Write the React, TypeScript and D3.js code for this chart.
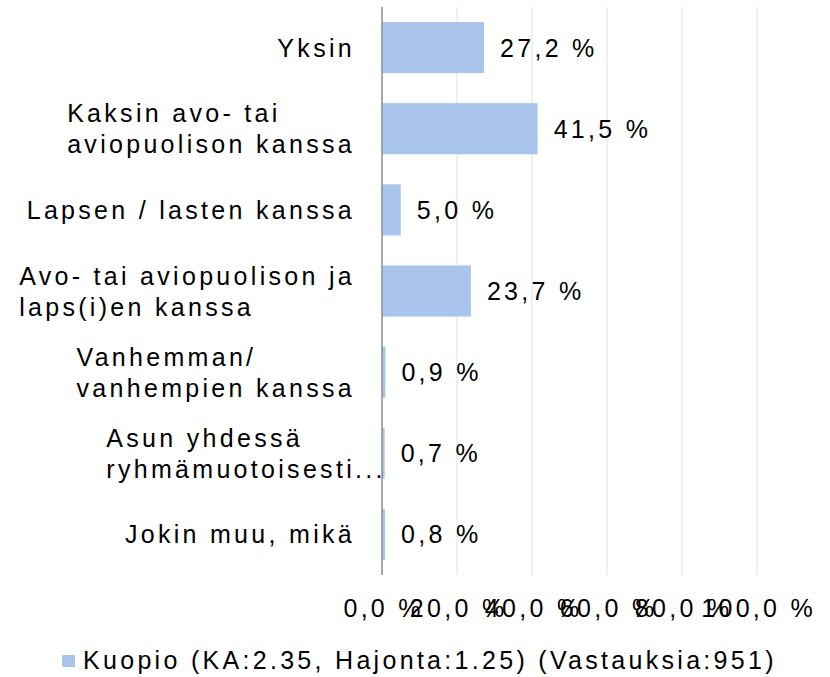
import React, { useEffect, useRef } from "react";
import * as d3 from "d3";

const categories: string[][] = [
  ["Yksin"],
  ["Kaksin avo- tai", "aviopuolison kanssa"],
  ["Lapsen / lasten kanssa"],
  ["Avo- tai aviopuolison ja", "laps(i)en kanssa"],
  ["Vanhemman/", "vanhempien kanssa"],
  ["Asun yhdessä", "ryhmämuotoisesti..."],
  ["Jokin muu, mikä"],
];
const values: number[] = [27.2, 41.5, 5.0, 23.7, 0.9, 0.7, 0.8];
const xTicks: number[] = [0, 20, 40, 60, 80, 100];
const legendLabel = "Kuopio (KA:2.35, Hajonta:1.25) (Vastauksia:951)";

const W = 830;
const H = 677;
const FONT = "'Liberation Sans', Arial, sans-serif";
const FS = 25;
const LS = 3.3;
const BAR = "#a9c5ec";
const GRID = "#d9e3f2";
const AXIS = "#8c8c8c";

const fmt = (v: number) => v.toFixed(1).replace(".", ",") + " %";

export default function App() {
  const ref = useRef<SVGSVGElement | null>(null);

  useEffect(() => {
    const svg = d3.select(ref.current);
    svg.selectAll("*").remove();

    const left = 382;
    const right = 757;
    const top = 7;
    const bottom = 575;

    const x = d3.scaleLinear().domain([0, 100]).range([left, right]);
    const y = d3
      .scaleBand<number>()
      .domain(d3.range(categories.length))
      .range([top, bottom])
      .paddingInner(0.37)
      .paddingOuter(0.185);

    // gridlines
    svg
      .append("g")
      .selectAll("line")
      .data(xTicks.filter((t) => t > 0))
      .join("line")
      .attr("x1", (d) => x(d))
      .attr("x2", (d) => x(d))
      .attr("y1", top)
      .attr("y2", bottom)
      .attr("stroke", GRID)
      .attr("stroke-width", 1);

    // bars
    svg
      .append("g")
      .selectAll("rect")
      .data(values)
      .join("rect")
      .attr("x", x(0))
      .attr("y", (_, i) => y(i)!)
      .attr("width", (d) => x(d) - x(0))
      .attr("height", y.bandwidth())
      .attr("fill", BAR);

    // axis line
    svg
      .append("line")
      .attr("x1", x(0))
      .attr("x2", x(0))
      .attr("y1", top)
      .attr("y2", bottom)
      .attr("stroke", AXIS)
      .attr("stroke-width", 1.5);

    const textStyle = (sel: any) =>
      sel
        .attr("font-family", FONT)
        .attr("font-size", FS)
        .attr("letter-spacing", LS)
        .attr("fill", "#000");

    // data labels
    svg
      .append("g")
      .selectAll("text")
      .data(values)
      .join("text")
      .call(textStyle)
      .attr("x", (d) => x(d) + 16)
      .attr("y", (_, i) => y(i)! + y.bandwidth() / 2 + 9)
      .text((d) => fmt(d));

    // category labels
    const labelRight = 355;
    const lineH = 31;
    categories.forEach((lines, i) => {
      const cy = y(i)! + y.bandwidth() / 2;
      const g = svg.append("g");
      const texts = lines.map((ln, j) =>
        g
          .append("text")
          .call(textStyle)
          .attr("y", cy + (j - (lines.length - 1) / 2) * lineH + 9)
          .text(ln)
      );
      // measure width (ellipsis excluded, as in the source layout)
      const widths = lines.map((ln, j) => {
        const core = ln.replace(/\.\.\.$/, "");
        if (core === ln) return (texts[j].node() as SVGTextElement).getComputedTextLength();
        const tmp = g.append("text").call(textStyle).text(core);
        const w = (tmp.node() as SVGTextElement).getComputedTextLength();
        tmp.remove();
        return w;
      });
      const maxW = d3.max(widths) || 0;
      texts.forEach((t) => t.attr("x", labelRight - maxW));
    });

    // x tick labels
    svg
      .append("g")
      .selectAll("text")
      .data(xTicks)
      .join("text")
      .call(textStyle)
      .attr("text-anchor", "middle")
      .attr("x", (d) => x(d) + LS / 2)
      .attr("y", 617)
      .text((d) => fmt(d));

    // legend
    svg
      .append("rect")
      .attr("x", 62)
      .attr("y", 655)
      .attr("width", 13)
      .attr("height", 12)
      .attr("fill", BAR);
    svg
      .append("text")
      .call(textStyle)
      .attr("x", 83)
      .attr("y", 669)
      .text(legendLabel);
  }, []);

  return (
    <div style={{ position: "absolute", left: 0, top: 0 }}>
      <svg ref={ref} width={W} height={H} style={{ display: "block", background: "#fff" }} />
    </div>
  );
}
